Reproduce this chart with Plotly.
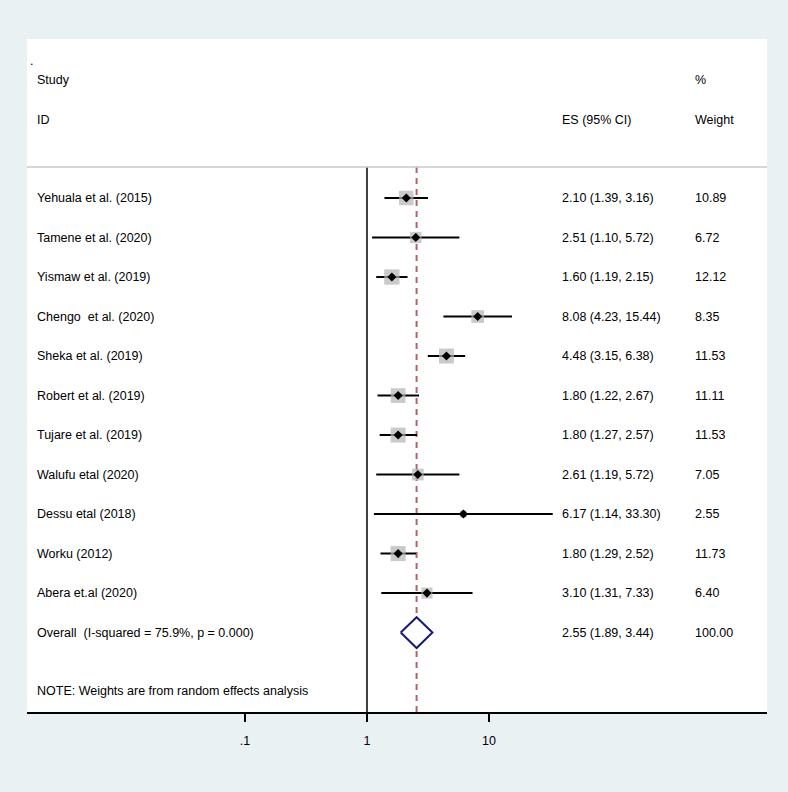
import plotly.graph_objects as go

studies = ["Yehuala et al. (2015)", "Tamene et al. (2020)", "Yismaw et al. (2019)",
           "Chengo  et al. (2020)", "Sheka et al. (2019)", "Robert et al. (2019)",
           "Tujare et al. (2019)", "Walufu etal (2020)", "Dessu etal (2018)",
           "Worku (2012)", "Abera et.al (2020)"]
es = [2.10, 2.51, 1.60, 8.08, 4.48, 1.80, 1.80, 2.61, 6.17, 1.80, 3.10]
lo = [1.39, 1.10, 1.19, 4.23, 3.15, 1.22, 1.27, 1.19, 1.14, 1.29, 1.31]
hi = [3.16, 5.72, 2.15, 15.44, 6.38, 2.67, 2.57, 5.72, 33.30, 2.52, 7.33]
weights = [10.89, 6.72, 12.12, 8.35, 11.53, 11.11, 11.53, 7.05, 2.55, 11.73, 6.40]
overall_label = "Overall  (I-squared = 75.9%, p = 0.000)"
overall_es, overall_lo, overall_hi = 2.55, 1.89, 3.44
overall_weight = 100.00
note = "NOTE: Weights are from random effects analysis"
tick_vals = [0.1, 1, 10]
tick_text = [".1", "1", "10"]

FONT = "Liberation Sans Narrow, Arial Narrow, Liberation Sans, Arial, sans-serif"
FS = 12.5
rows = list(range(len(studies)))
overall_row = len(studies)
note_row = 12.48
Y_TOP, Y_BOT = -4.025, 13.01
SEP = -0.785

fig = go.Figure()

# CI lines
cx, cy = [], []
for r, a, b in zip(rows, lo, hi):
    cx += [a, b, None]
    cy += [r, r, None]
fig.add_trace(go.Scatter(x=cx, y=cy, mode="lines", line=dict(color="black", width=2),
                         hoverinfo="skip", showlegend=False))
# weight squares
fig.add_trace(go.Scatter(x=es, y=rows, mode="markers",
                         marker=dict(symbol="square", color="#b4b4b4",
                                     size=[4.4 * w ** 0.5 for w in weights], line=dict(width=0)),
                         showlegend=False))
# point estimate
fig.add_trace(go.Scatter(x=es, y=rows, mode="markers",
                         marker=dict(symbol="diamond", color="black", size=7, line=dict(width=0)),
                         showlegend=False))
# overall diamond
h = 0.39
fig.add_trace(go.Scatter(x=[overall_lo, overall_es, overall_hi, overall_es, overall_lo],
                         y=[overall_row, overall_row - h, overall_row, overall_row + h, overall_row],
                         mode="lines", fill="toself", fillcolor="white",
                         line=dict(color="#1a1a78", width=2), showlegend=False))

# vertical lines
fig.add_shape(type="line", x0=1, x1=1, y0=SEP, y1=Y_BOT, xref="x", yref="y",
              line=dict(color="black", width=1.5), layer="below")
fig.add_shape(type="line", x0=overall_es, x1=overall_es, y0=SEP, y1=Y_BOT, xref="x", yref="y",
              line=dict(color="#b0636b", width=2, dash="6px,5px"), layer="below")
# header separator
fig.add_shape(type="line", x0=0, x1=1, y0=SEP, y1=SEP, xref="paper", yref="y",
              line=dict(color="#c8c8c8", width=1.5))

def txt(x, y, s):
    fig.add_annotation(x=x, y=y, xref="paper", yref="y", text=s, showarrow=False,
                       xanchor="left", yanchor="middle",
                       font=dict(family=FONT, size=FS, color="black"))

XS, XE, XW = 0.011, 0.7205, 0.9005
txt(0.002, -3.47, ".")
txt(XS, -2.99, "Study")
txt(XS, -1.97, "ID")
txt(XW, -2.99, "%")
txt(XE, -1.97, "ES (95% CI)")
txt(XW, -1.97, "Weight")
for r, s, e, a, b, w in zip(rows, studies, es, lo, hi, weights):
    txt(XS, r, s)
    txt(XE, r, f"{e:.2f} ({a:.2f}, {b:.2f})")
    txt(XW, r, f"{w:.2f}")
txt(XS, overall_row, overall_label)
txt(XE, overall_row, f"{overall_es:.2f} ({overall_lo:.2f}, {overall_hi:.2f})")
txt(XW, overall_row, f"{overall_weight:.2f}")
txt(XS, note_row, note)

fig.update_layout(
    width=788, height=792,
    margin=dict(l=27, r=21, t=39, b=80),
    paper_bgcolor="#eaf1f3", plot_bgcolor="white",
    font=dict(family=FONT, size=FS, color="black"),
    xaxis=dict(type="log", range=[-2.787, 3.279], tickvals=tick_vals, ticktext=tick_text,
               ticks="outside", ticklen=8, tickwidth=1.5, tickcolor="black",
               ticklabelstandoff=8,
               showline=True, linecolor="black", linewidth=1.5, showgrid=False,
               zeroline=False, tickfont=dict(family=FONT, size=FS)),
    yaxis=dict(range=[Y_BOT, Y_TOP], visible=False, showgrid=False, zeroline=False),
)

fig.write_html("out.html", config={"displayModeBar": False},
               post_script="document.body.style.margin='0';document.body.style.overflow='hidden';")
